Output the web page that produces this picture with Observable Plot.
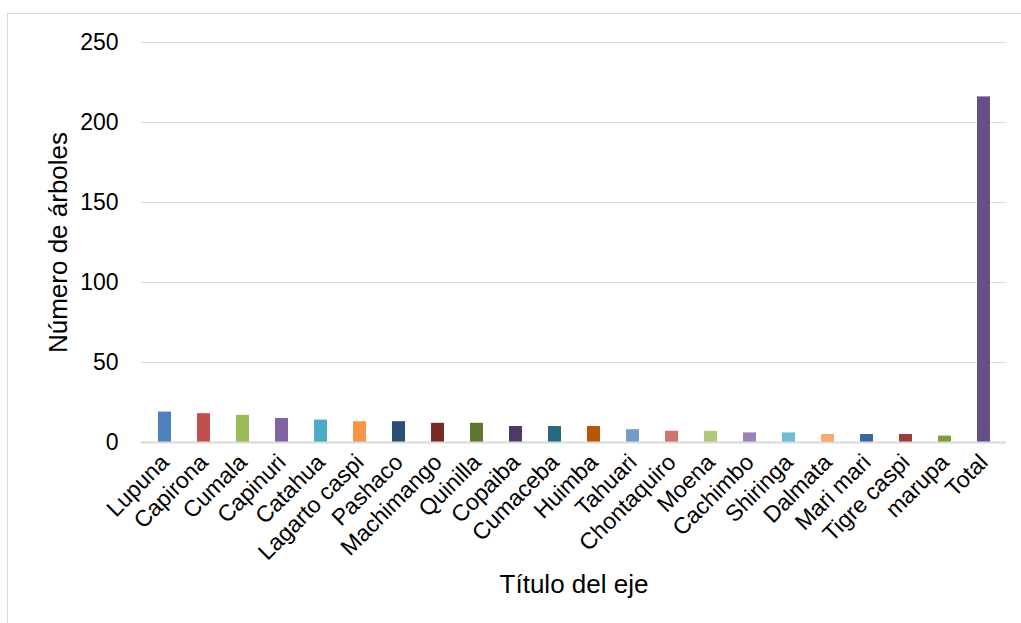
<!DOCTYPE html>
<html>
<head>
<meta charset="utf-8">
<script src="https://cdn.jsdelivr.net/npm/d3@7"></script>
<script src="https://cdn.jsdelivr.net/npm/@observablehq/plot@0.6"></script>
<style>
  html, body { margin: 0; padding: 0; background: #fff; }
  #wrap { position: relative; width: 1021px; height: 623px; overflow: hidden; }
  #border { position: absolute; left: 7px; top: 13px; width: 1100px; height: 700px;
            border-left: 1.5px solid #D9D9D9; border-top: 1.5px solid #D9D9D9; }
  #chart { position: absolute; left: 0; top: 0; }
  #chart svg { font-family: "Liberation Sans", Arial, sans-serif; }
</style>
</head>
<body>
<div id="wrap">
  <div id="border"></div>
  <div id="chart"></div>
</div>
<script>
// Tree species and number of trees counted for each one
const species = ["Lupuna", "Capirona", "Cumala", "Capinuri", "Catahua", "Lagarto caspi",
  "Pashaco", "Machimango", "Quinilla", "Copaiba", "Cumaceba", "Huimba", "Tahuari",
  "Chontaquiro", "Moena", "Cachimbo", "Shiringa", "Dalmata", "Mari mari", "Tigre caspi",
  "marupa", "Total"];
const counts = [19, 18, 17, 15, 14, 13, 13, 12, 12, 10, 10, 10, 8, 7, 7, 6, 6, 5, 5, 5, 4, 216];
const colors = ["#4F81BD", "#C0504D", "#9BBB59", "#8064A2", "#4BACC6", "#F79646",
  "#2C4D75", "#772C2A", "#5F7530", "#4D3B62", "#276A7C", "#B65708", "#729ACA",
  "#CD7371", "#AFC97A", "#9983B5", "#6FBDD1", "#F9AB6B", "#3A679C", "#9F3B38",
  "#7E9C40", "#664F84"];
const yTicks = [0, 50, 100, 150, 200, 250];

const data = species.map((s, i) => ({species: s, count: counts[i], color: colors[i]}));

const chart = Plot.plot({
  width: 1021,
  height: 623,
  marginLeft: 141,
  marginRight: 15,
  marginTop: 42,
  marginBottom: 181,
  style: {fontSize: "23px", color: "#000", background: "transparent"},
  x: {domain: species, paddingInner: 0.67, paddingOuter: 0.335},
  y: {domain: [0, 250]},
  marks: [
    Plot.ruleY(yTicks.filter(d => d > 0), {stroke: "#D9D9D9", strokeWidth: 1.2}),
    Plot.barY(data, {x: "species", y: "count", fill: "color"}),
    Plot.ruleY([0], {stroke: "#D9D9D9", strokeWidth: 2}),
    Plot.axisY({ticks: yTicks, tickSize: 0, tickPadding: 23, fontSize: 23,
      label: "Número de árboles", labelAnchor: "center", labelArrow: "none",
      labelOffset: 93}),
    Plot.axisX({tickSize: 0, tickRotate: -45, tickPadding: 16, fontSize: 23,
      label: "Título del eje", labelAnchor: "center", labelArrow: "none",
      labelOffset: 150})
  ]
});
chart.querySelectorAll("[aria-label='y-axis label'] text, [aria-label='x-axis label'] text")
  .forEach(t => t.style.fontSize = "26px");
document.getElementById("chart").appendChild(chart);
</script>
</body>
</html>
